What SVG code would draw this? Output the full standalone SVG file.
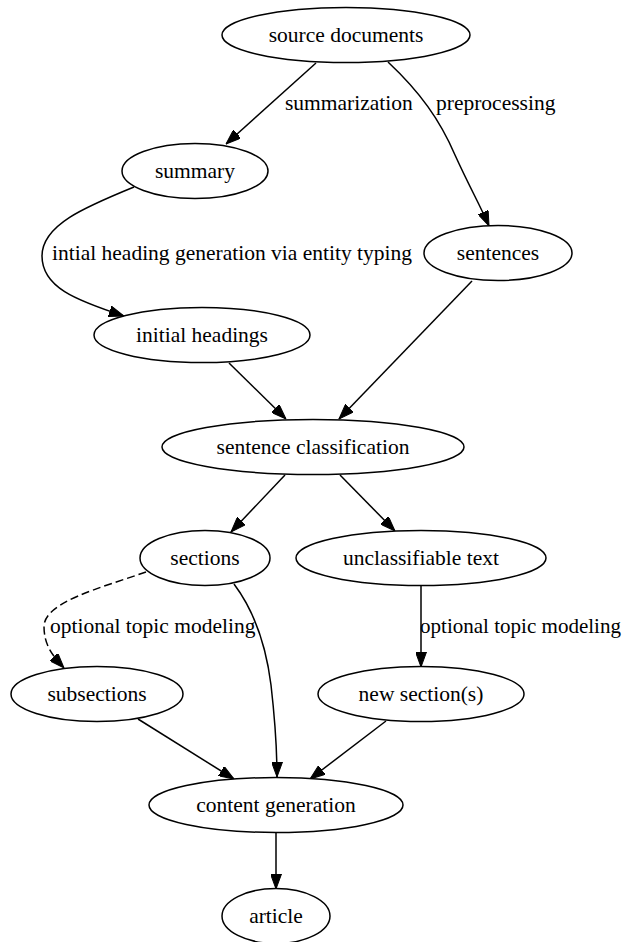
<svg xmlns="http://www.w3.org/2000/svg" width="624" height="942" viewBox="0 0 624 942">
<style>
.n ellipse{fill:#fff;stroke:#000;stroke-width:1.5}
text{font-family:"Liberation Serif","Times New Roman",serif;font-size:21.5px;fill:#000}
.n text{text-anchor:middle}
.e path{fill:none;stroke:#000;stroke-width:1.5;marker-end:url(#ah)}
.e .d{stroke-dasharray:8,4}
</style>
<defs>
<marker id="ah" viewBox="0 0 15 11" refX="15" refY="5.5" markerWidth="15" markerHeight="11" markerUnits="userSpaceOnUse" orient="auto">
<path d="M0,0 L15,5.5 L0,11 z" fill="#000" stroke="#000" stroke-width="1"/>
</marker>
</defs>
<rect width="624" height="942" fill="#fff"/>
<g id="edges" class="e">
<path d="M316,63 L226,144"/>
<path d="M388,62 C420,92 440,120 455,155 C470,188 480,205 489,226"/>
<path d="M134,187 C85,207 42,225 42,256 C42,287 75,300 124,316"/>
<path d="M472,281 L339,419"/>
<path d="M229,363 L286,419"/>
<path d="M285,475 L231,532"/>
<path d="M340,475 L395,531"/>
<path class="d" d="M146,572 C100,588 45,602 44,626 C44,645 52,655 64,668"/>
<path d="M234,584 C255,612 266,645 271,685 C275,720 277,750 277,777"/>
<path d="M421,586 L421,667"/>
<path d="M138,719 L234,779"/>
<path d="M386,721 L310,779"/>
<path d="M276,832 L276,889"/>
</g>
<g id="edge-labels">
<text x="285" y="110">summarization</text>
<text x="436" y="110">preprocessing</text>
<text x="52" y="260">intial heading generation via entity typing</text>
<text x="50" y="633">optional topic modeling</text>
<text x="420" y="633" textLength="201" lengthAdjust="spacingAndGlyphs">optional topic modeling</text>
</g>
<g id="source_documents" class="n"><ellipse cx="346" cy="35" rx="124" ry="27.5"/><text x="346" y="42">source documents</text></g>
<g id="summary" class="n"><ellipse cx="195" cy="171" rx="73" ry="27.5"/><text x="195" y="178">summary</text></g>
<g id="sentences" class="n"><ellipse cx="498" cy="253" rx="74" ry="27.5"/><text x="498" y="260">sentences</text></g>
<g id="initial_headings" class="n"><ellipse cx="202" cy="335" rx="108" ry="27.5"/><text x="202" y="342">initial headings</text></g>
<g id="sentence_classification" class="n"><ellipse cx="313" cy="447" rx="151" ry="27.5"/><text x="313" y="454">sentence classification</text></g>
<g id="sections" class="n"><ellipse cx="205" cy="558" rx="65" ry="27.5"/><text x="205" y="565">sections</text></g>
<g id="unclassifiable_text" class="n"><ellipse cx="421" cy="558" rx="125" ry="27.5"/><text x="421" y="565">unclassifiable text</text></g>
<g id="subsections" class="n"><ellipse cx="97" cy="694" rx="86" ry="27.5"/><text x="97" y="701">subsections</text></g>
<g id="new_sections" class="n"><ellipse cx="421" cy="694" rx="103" ry="27.5"/><text x="421" y="701">new section(s)</text></g>
<g id="content_generation" class="n"><ellipse cx="276" cy="805" rx="127" ry="27.5"/><text x="276" y="812">content generation</text></g>
<g id="article" class="n"><ellipse cx="276" cy="916" rx="54" ry="27.5"/><text x="276" y="923">article</text></g>
</svg>
